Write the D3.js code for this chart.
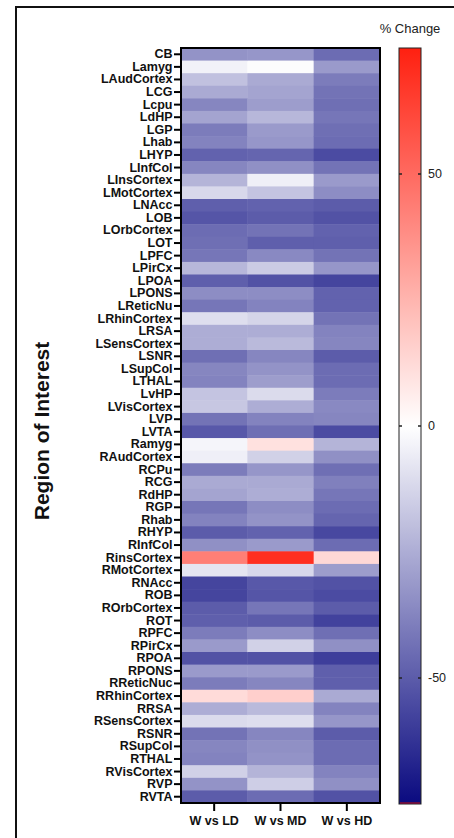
<!DOCTYPE html>
<html>
<head>
<style>
  body{
    margin: 0;
    background: white;
    font-family: 'Liberation Sans', Arial, sans-serif;
  }
</style>
</head>
<body>
<svg id='svgVis'></svg>

<script src="https://cdn.jsdelivr.net/npm/d3@7/dist/d3.min.js"></script>
<script>

var regions = ["CB","Lamyg","LAudCortex","LCG","Lcpu","LdHP","LGP","Lhab","LHYP","LInfCol",
  "LInsCortex","LMotCortex","LNAcc","LOB","LOrbCortex","LOT","LPFC","LPirCx","LPOA","LPONS",
  "LReticNu","LRhinCortex","LRSA","LSensCortex","LSNR","LSupCol","LTHAL","LvHP","LVisCortex","LVP",
  "LVTA","Ramyg","RAudCortex","RCPu","RCG","RdHP","RGP","Rhab","RHYP","RInfCol",
  "RinsCortex","RMotCortex","RNAcc","ROB","ROrbCortex","ROT","RPFC","RPirCx","RPOA","RPONS",
  "RReticNuc","RRhinCortex","RRSA","RSensCortex","RSNR","RSupCol","RTHAL","RVisCortex","RVP","RVTA"];

var comparisons = ["W vs LD", "W vs MD", "W vs HD"];

var wVsLD = [-33,-4,-19,-26,-37,-28,-40,-38,-48,-37,
  -23,-12,-49,-52,-45,-44,-42,-22,-49,-35,
  -42,-10,-25,-25,-44,-37,-38,-18,-17,-43,
  -51,-3,-5,-40,-26,-28,-42,-38,-50,-34,
  43,-8,-57,-57,-50,-49,-40,-31,-53,-31,
  -40,12,-25,-11,-43,-37,-38,-14,-33,-50];

var wVsMD = [-32,-1,-26,-28,-30,-22,-31,-32,-47,-34,
  -5,-18,-48,-50,-43,-49,-36,-16,-53,-35,
  -38,-13,-25,-21,-37,-33,-30,-11,-25,-38,
  -44,10,-14,-32,-26,-25,-35,-33,-48,-31,
  70,-12,-51,-52,-42,-50,-35,-14,-53,-31,
  -37,16,-21,-10,-37,-34,-33,-23,-15,-45];

var wVsHD = [-45,-31,-40,-43,-44,-42,-44,-45,-55,-43,
  -31,-35,-50,-53,-48,-49,-43,-32,-57,-48,
  -48,-43,-38,-37,-50,-45,-45,-40,-36,-37,
  -55,-23,-34,-44,-39,-42,-45,-47,-56,-45,
  13,-30,-53,-55,-50,-58,-44,-34,-59,-49,
  -49,-26,-38,-32,-50,-45,-45,-38,-34,-53];

var legendTicks = [50, 0, -50];

var series = [wVsLD, wVsMD, wVsHD];

var width = 454, height = 838;

var svg = d3.select("#svgVis")
    .attr("width", width)
    .attr("height", height);

// outer frame of the figure
svg.append("rect")
  .attr("x", 16).attr("y", 7)
  .attr("width", 460).attr("height", 850)
  .attr("fill", "none")
  .attr("stroke", "#111")
  .attr("stroke-width", 2);

var hm = {left: 181, top: 48, right: 380, bottom: 803};

var x = d3.scaleBand()
  .domain(comparisons)
  .range([hm.left, hm.right]);

var y = d3.scaleBand()
  .domain(regions)
  .range([hm.top, hm.bottom]);

var color = d3.scaleLinear()
  .domain([-75, 0, 75])
  .range(["#0a0a80", "#ffffff", "#ff2010"])
  .clamp(true);

var cells = [];
series.forEach(function(s, j) {
  s.forEach(function(v, i) {
    cells.push({region: regions[i], comp: comparisons[j], value: v});
  });
});

svg.append("g")
  .selectAll("rect")
  .data(cells)
  .enter()
  .append("rect")
  .attr("x", function(d) { return x(d.comp); })
  .attr("y", function(d) { return y(d.region); })
  .attr("width", x.bandwidth() + 0.5)
  .attr("height", y.bandwidth() + 0.5)
  .attr("fill", function(d) { return color(d.value); });

svg.append("rect")
  .attr("x", hm.left).attr("y", hm.top)
  .attr("width", hm.right - hm.left).attr("height", hm.bottom - hm.top)
  .attr("fill", "none")
  .attr("stroke", "#000")
  .attr("stroke-width", 2);

// y axis
var yAxis = svg.append("g")
  .attr("transform", "translate(" + (hm.left - 1) + ",0)")
  .call(d3.axisLeft(y).tickSize(6).tickPadding(1.5));

yAxis.select(".domain").remove();
yAxis.selectAll(".tick line").attr("stroke", "#000").attr("stroke-width", 2);
yAxis.selectAll(".tick text")
  .attr("fill", "#111")
  .style("font-size", "12.5px")
  .style("font-weight", "bold")
  .style("font-family", "'Liberation Sans', Arial, sans-serif");

// x axis
var xAxis = svg.append("g")
  .attr("transform", "translate(0," + (hm.bottom + 1) + ")")
  .call(d3.axisBottom(x).tickSize(7).tickPadding(5));

xAxis.select(".domain").remove();
xAxis.selectAll(".tick line").attr("stroke", "#000").attr("stroke-width", 2);
xAxis.selectAll(".tick text")
  .attr("fill", "#111")
  .style("font-size", "12.5px")
  .style("font-weight", "bold")
  .style("font-family", "'Liberation Sans', Arial, sans-serif");

svg.append("text")
  .attr("transform", "translate(49,431) rotate(-90)")
  .attr("text-anchor", "middle")
  .style("font-size", "21px")
  .style("font-weight", "bold")
  .attr("fill", "#111")
  .text("Region of Interest");

// colour legend
var lg = {left: 399, right: 421, top: 48, bottom: 804};

var ly = d3.scaleLinear()
  .domain([-75, 75])
  .range([lg.bottom, lg.top]);

var defs = svg.append("defs");
var grad = defs.append("linearGradient")
  .attr("id", "legendGrad")
  .attr("x1", "0").attr("y1", "1")
  .attr("x2", "0").attr("y2", "0");

d3.range(-75, 76, 5).forEach(function(v) {
  grad.append("stop")
    .attr("offset", ((v + 75) / 150 * 100) + "%")
    .attr("stop-color", color(v));
});

svg.append("rect")
  .attr("x", lg.left).attr("y", lg.top)
  .attr("width", lg.right - lg.left).attr("height", lg.bottom - lg.top)
  .attr("fill", "url(#legendGrad)")
  .attr("stroke", "#222")
  .attr("stroke-width", 1);

svg.append("line")
  .attr("x1", lg.left + 1).attr("x2", lg.right - 1)
  .attr("y1", lg.bottom - 1).attr("y2", lg.bottom - 1)
  .attr("stroke", "#8a1030")
  .attr("stroke-width", 1.5);

var lt = svg.append("g");
legendTicks.forEach(function(t) {
  lt.append("line")
    .attr("x1", lg.left).attr("x2", lg.left + 3)
    .attr("y1", ly(t)).attr("y2", ly(t))
    .attr("stroke", "#222").attr("stroke-width", 1.5);
  lt.append("line")
    .attr("x1", lg.right - 3).attr("x2", lg.right)
    .attr("y1", ly(t)).attr("y2", ly(t))
    .attr("stroke", "#222").attr("stroke-width", 1.5);
  lt.append("text")
    .attr("x", 428)
    .attr("y", ly(t))
    .attr("dy", "0.35em")
    .style("font-size", "12.5px")
    .attr("fill", "#222")
    .text(t);
});

svg.append("text")
  .attr("x", 410)
  .attr("y", 33)
  .attr("text-anchor", "middle")
  .style("font-size", "13px")
  .attr("fill", "#222")
  .text("% Change");

</script>
</body>
</html>
